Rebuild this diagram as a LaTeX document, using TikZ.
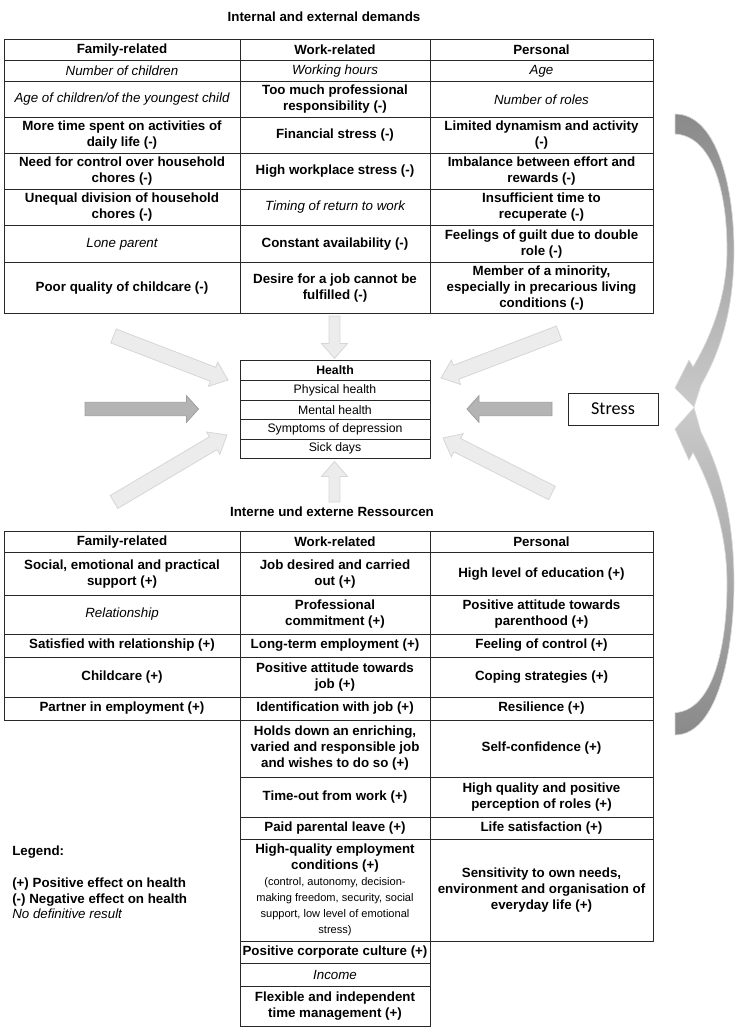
\documentclass[tikz,border=0pt]{standalone}
\usepackage{fontspec}
\setmainfont{Liberation Sans}
\newfontfamily\stressfont{Carlito}
\usetikzlibrary{calc}
\definecolor{lightarr}{RGB}{236,236,236}
\definecolor{lightarrline}{RGB}{214,214,214}
\definecolor{darkarr}{RGB}{180,180,180}
\definecolor{darkarrline}{RGB}{158,158,158}
\definecolor{cdark}{RGB}{138,138,138}
\definecolor{clight}{RGB}{202,202,202}
\definecolor{tborder}{RGB}{40,40,40}
\newcommand\blockarr[6]{%
  \coordinate (bh) at ($(#3)!#6!(#2)$);
  \path[#1] ($(#2)!#4!90:(#3)$) -- ($(bh)!#4!90:(#3)$) -- ($(bh)!#5!90:(#3)$) -- (#3)
    -- ($(bh)!#5!-90:(#3)$) -- ($(bh)!#4!-90:(#3)$) -- ($(#2)!#4!-90:(#3)$) -- cycle;}
\newcommand\tcell[7]{%
  \pgfmathsetmacro\cellw{(#4-#2)*0.75}%
  \pgfmathsetmacro\cellh{(#5-#3)*0.75}%
  \node[cellbox,#6,minimum width=\cellw pt,minimum height=\cellh pt] (#1) at ({(#2+#4)/2},{(#3+#5)/2}) {#7};}
\tikzset{
  cellbox/.style={draw=tborder,line width=0.75pt,inner sep=0pt,align=center,font=\fontsize{10}{12}\selectfont},
  cb/.style={font=\fontsize{10}{12}\selectfont\bfseries},
  ci/.style={font=\fontsize{10}{12}\selectfont\itshape},
  cr/.style={font=\fontsize{10}{12}\selectfont},
  hb/.style={font=\fontsize{9.2}{11}\selectfont\bfseries},
  hr/.style={font=\fontsize{9.2}{11}\selectfont},
  lightblk/.style={fill=lightarr,draw=lightarrline,line width=0.6pt},
  darkblk/.style={fill=darkarr,draw=darkarrline,line width=0.6pt},
  curvearr/.style={draw=white!85!black,line width=0.5pt},
  titletext/.style={font=\fontsize{10}{12}\selectfont\bfseries,inner sep=0pt}
}
\begin{document}
\begin{tikzpicture}[x=0.75pt,y=-0.75pt]
\useasboundingbox (0,0) rectangle (741,1036);

% ---------- block arrows ----------
\coordinate (tdT) at (334.5,316);   \coordinate (tdP) at (334.5,358.5);
\coordinate (buT) at (334.5,502);   \coordinate (buP) at (334.5,461.5);
\coordinate (ulT) at (113.5,336);   \coordinate (ulP) at (228,380);
\coordinate (llT) at (114,502);     \coordinate (llP) at (227,435);
\coordinate (urT) at (559,333);     \coordinate (urP) at (441,378);
\coordinate (lrT) at (552,493);     \coordinate (lrP) at (443,438);
\coordinate (dlT) at (85,409);      \coordinate (dlP) at (198.5,409);
\coordinate (drT) at (552,409);     \coordinate (drP) at (467,409);

\blockarr{lightblk}{tdT}{tdP}{4.1pt}{9.75pt}{11.25pt}
\blockarr{lightblk}{buT}{buP}{4.1pt}{9.75pt}{11.25pt}
\blockarr{lightblk}{ulT}{ulP}{5.6pt}{9.75pt}{12pt}
\blockarr{lightblk}{llT}{llP}{5.6pt}{9.75pt}{12pt}
\blockarr{lightblk}{urT}{urP}{5.6pt}{9.75pt}{12pt}
\blockarr{lightblk}{lrT}{lrP}{5.6pt}{9.75pt}{12pt}
\blockarr{darkblk}{dlT}{dlP}{5pt}{10pt}{9pt}
\blockarr{darkblk}{drT}{drP}{5pt}{10pt}{9pt}

% ---------- curved arrows ----------
\shade[curvearr,top color=cdark,bottom color=clight]
  (675,114) .. controls (718,114) and (734,190) .. (734,250)
  .. controls (734,310) and (720,352) .. (701,385)
  -- (694,407) -- (675,388) -- (689,360) -- (693,367)
  .. controls (712,335) and (727,295) .. (727,250)
  .. controls (727,190) and (712,136) .. (675,134) -- cycle;
\begin{scope}[shift={(0,862.3)},yscale=-1.117]
\shade[curvearr,top color=clight,bottom color=cdark]
  (675,114) .. controls (718,114) and (734,190) .. (734,250)
  .. controls (734,310) and (720,352) .. (701,385)
  -- (694,407) -- (675,388) -- (689,360) -- (693,367)
  .. controls (712,335) and (727,295) .. (727,250)
  .. controls (727,190) and (712,136) .. (675,134) -- cycle;
\end{scope}

% ---------- titles ----------
\node[titletext] (title1) at (324,17) {Internal and external demands};
\node[titletext] (title2) at (332,512) {Interne und externe Ressourcen};

% ---------- top table ----------
\tcell{t01}{4}{39.3}{240}{60.7}{cb}{Family-related}
\tcell{t02}{240}{39.3}{430}{60.7}{cb}{Work-related}
\tcell{t03}{430}{39.3}{653}{60.7}{cb}{Personal}
\tcell{t11}{4}{60.7}{240}{81.3}{ci}{Number of children}
\tcell{t12}{240}{60.7}{430}{81.3}{ci}{Working hours}
\tcell{t13}{430}{60.7}{653}{81.3}{ci}{Age}
\tcell{t21}{4}{81.3}{240}{117.3}{ci}{Age of children/of the youngest child}
\tcell{t22}{240}{81.3}{430}{117.3}{cb}{Too much professional\\responsibility (-)}
\tcell{t23}{430}{81.3}{653}{117.3}{ci}{Number of roles}
\tcell{t31}{4}{117.3}{240}{153.3}{cb}{More time spent on activities of\\daily life (-)}
\tcell{t32}{240}{117.3}{430}{153.3}{cb}{Financial stress (-)}
\tcell{t33}{430}{117.3}{653}{153.3}{cb}{Limited dynamism and activity\\(-)}
\tcell{t41}{4}{153.3}{240}{189.3}{cb}{Need for control over household\\chores (-)}
\tcell{t42}{240}{153.3}{430}{189.3}{cb}{High workplace stress (-)}
\tcell{t43}{430}{153.3}{653}{189.3}{cb}{Imbalance between effort and\\rewards (-)}
\tcell{t51}{4}{189.3}{240}{225.7}{cb}{Unequal division of household\\chores (-)}
\tcell{t52}{240}{189.3}{430}{225.7}{ci}{Timing of return to work}
\tcell{t53}{430}{189.3}{653}{225.7}{cb}{Insufficient time to\\recuperate (-)}
\tcell{t61}{4}{225.7}{240}{262}{ci}{Lone parent}
\tcell{t62}{240}{225.7}{430}{262}{cb}{Constant availability (-)}
\tcell{t63}{430}{225.7}{653}{262}{cb}{Feelings of guilt due to double\\role (-)}
\tcell{t71}{4}{262}{240}{313.3}{cb}{Poor quality of childcare (-)}
\tcell{t72}{240}{262}{430}{313.3}{cb}{Desire for a job cannot be\\fulfilled (-)}
\tcell{t73}{430}{262}{653}{313.3}{cb}{Member of a minority,\\especially in precarious living\\conditions (-)}

% ---------- health box ----------
\tcell{h0}{240}{360}{430}{380}{hb}{Health}
\tcell{h1}{240}{380}{430}{400}{hr}{Physical health}
\tcell{h2}{240}{400}{430}{419.5}{hr}{Mental health}
\tcell{h3}{240}{419.5}{430}{439}{hr}{Symptoms of depression}
\tcell{h4}{240}{439}{430}{458.5}{hr}{Sick days}

% ---------- stress ----------
\node[draw=tborder,line width=0.75pt,minimum width=67.5pt,minimum height=24pt,inner sep=0pt,
      font=\stressfont\fontsize{13.6}{16}\selectfont] (stress) at (613,409) {Stress};

% ---------- bottom table ----------
\tcell{b01}{4}{531.5}{240}{552.5}{cb}{Family-related}
\tcell{b02}{240}{531.5}{430}{552.5}{cb}{Work-related}
\tcell{b03}{430}{531.5}{653}{552.5}{cb}{Personal}
\tcell{b11}{4}{552.5}{240}{595}{cb}{Social, emotional and practical\\support (+)}
\tcell{b12}{240}{552.5}{430}{595}{cb}{Job desired and carried\\out (+)}
\tcell{b13}{430}{552.5}{653}{595}{cb}{High level of education (+)}
\tcell{b21}{4}{595}{240}{634}{ci}{Relationship}
\tcell{b22}{240}{595}{430}{634}{cb}{Professional\\commitment (+)}
\tcell{b23}{430}{595}{653}{634}{cb}{Positive attitude towards\\parenthood (+)}
\tcell{b31}{4}{634}{240}{657}{cb}{Satisfied with relationship (+)}
\tcell{b32}{240}{634}{430}{657}{cb}{Long-term employment (+)}
\tcell{b33}{430}{634}{653}{657}{cb}{Feeling of control (+)}
\tcell{b41}{4}{657}{240}{697}{cb}{Childcare (+)}
\tcell{b42}{240}{657}{430}{697}{cb}{Positive attitude towards\\job (+)}
\tcell{b43}{430}{657}{653}{697}{cb}{Coping strategies (+)}
\tcell{b51}{4}{697}{240}{720}{cb}{Partner in employment (+)}
\tcell{b52}{240}{697}{430}{720}{cb}{Identification with job (+)}
\tcell{b53}{430}{697}{653}{720}{cb}{Resilience (+)}
\tcell{b62}{240}{720}{430}{777}{cb}{Holds down an enriching,\\varied and responsible job\\and wishes to do so (+)}
\tcell{b63}{430}{720}{653}{777}{cb}{Self-confidence (+)}
\tcell{b72}{240}{777}{430}{817}{cb}{Time-out from work (+)}
\tcell{b73}{430}{777}{653}{817}{cb}{High quality and positive\\perception of roles (+)}
\tcell{b82}{240}{817}{430}{839}{cb}{Paid parental leave (+)}
\tcell{b83}{430}{817}{653}{839}{cb}{Life satisfaction (+)}
\tcell{b92}{240}{839}{430}{941}{cb}{High-quality employment\\conditions (+)\\
  {\mdseries\fontsize{8.3}{11.7}\selectfont (control, autonomy, decision-}\\
  {\mdseries\fontsize{8.3}{11.7}\selectfont making freedom, security, social}\\
  {\mdseries\fontsize{8.3}{11.7}\selectfont support, low level of emotional}\\
  {\mdseries\fontsize{8.3}{11.7}\selectfont stress)}}
\tcell{b93}{430}{839}{653}{941}{cb}{Sensitivity to own needs,\\environment and organisation of\\everyday life (+)}
\tcell{b102}{240}{941}{430}{963}{cb}{Positive corporate culture (+)}
\tcell{b112}{240}{963}{430}{986}{ci}{Income}
\tcell{b122}{240}{986}{430}{1026}{cb}{Flexible and independent\\time management (+)}

% ---------- legend ----------
\node[anchor=west,inner sep=0pt,font=\fontsize{10}{12}\selectfont\bfseries] (legtitle) at (12,852) {Legend:};
\node[anchor=west,inner sep=0pt,align=left,font=\fontsize{10}{11.6}\selectfont] (legbody) at (12,898.5)
  {\textbf{(+) Positive effect on health}\\\textbf{(-) Negative effect on health}\\\textit{No definitive result}};
\end{tikzpicture}
\end{document}
